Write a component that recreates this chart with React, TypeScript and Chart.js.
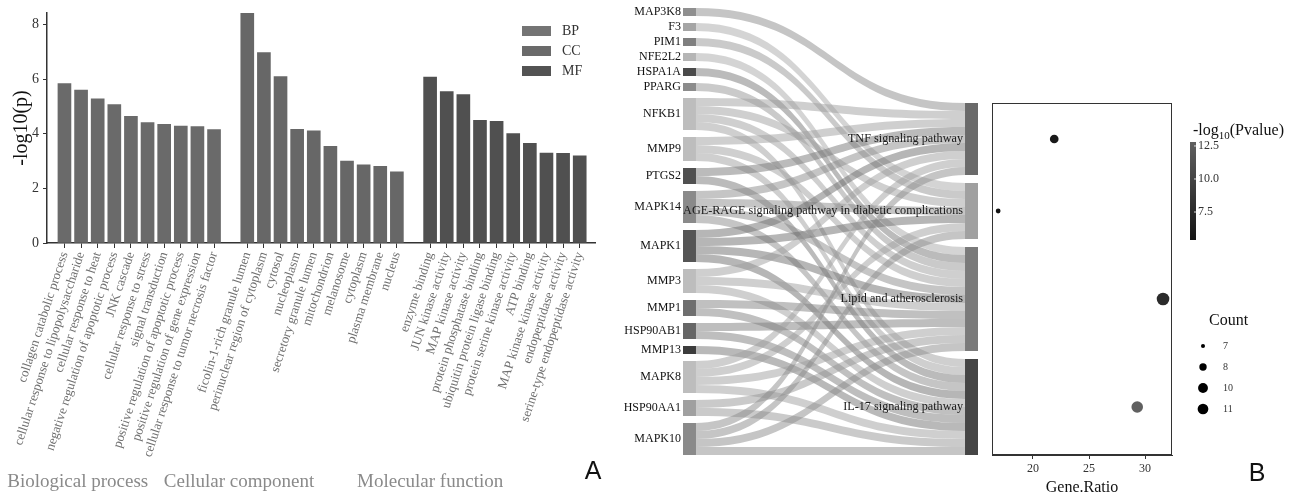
import React, { useEffect, useRef } from "react";
import { Chart, registerables } from "chart.js";

Chart.register(...registerables);

const SERIF = "'Liberation Serif', 'Times New Roman', serif";
const SANS = "'Liberation Sans', Arial, sans-serif";

// ---------------- Panel A data ----------------
const GROUPS = ["BP", "CC", "MF"];
const GROUP_TITLES = ["Biological process", "Cellular component", "Molecular function"];

const BP_TERMS = [
  "collagen catabolic process",
  "cellular response to lipopolysaccharide",
  "cellular response to heat",
  "negative regulation of apoptotic process",
  "JNK cascade",
  "cellular response to stress",
  "signal transduction",
  "positive regulation of apoptotic process",
  "positive regulation of gene expression",
  "cellular response to tumor necrosis factor",
];
const BP_VALUES = [5.84, 5.6, 5.28, 5.07, 4.64, 4.41, 4.34, 4.28, 4.26, 4.15];

const CC_TERMS = [
  "ficolin-1-rich granule lumen",
  "perinuclear region of cytoplasm",
  "cytosol",
  "nucleoplasm",
  "secretory granule lumen",
  "mitochondrion",
  "melanosome",
  "cytoplasm",
  "plasma membrane",
  "nucleus",
];
const CC_VALUES = [8.41, 6.97, 6.09, 4.16, 4.11, 3.54, 3.0, 2.86, 2.81, 2.61];

const MF_TERMS = [
  "enzyme binding",
  "JUN kinase activity",
  "MAP kinase activity",
  "protein phosphatase binding",
  "ubiquitin protein ligase binding",
  "protein serine kinase activity",
  "ATP binding",
  "MAP kinase kinase activity",
  "endopeptidase activity",
  "serine-type endopeptidase activity",
];
const MF_VALUES = [6.07, 5.54, 5.43, 4.49, 4.45, 4.01, 3.65, 3.29, 3.28, 3.19];

const Y_TICK_STEP = 2;

// ---------------- Panel B data ----------------
const GENES = [
  "MAP3K8", "F3", "PIM1", "NFE2L2", "HSPA1A", "PPARG", "NFKB1", "MMP9", "PTGS2",
  "MAPK14", "MAPK1", "MMP3", "MMP1", "HSP90AB1", "MMP13", "MAPK8", "HSP90AA1", "MAPK10",
];
const PATHWAYS = [
  "TNF signaling pathway",
  "AGE-RAGE signaling pathway in diabetic complications",
  "Lipid and atherosclerosis",
  "IL-17 signaling pathway",
];
// pathway indices (into PATHWAYS) each gene flows to
const GENE_PATHWAYS: number[][] = [
  [0], [1], [1], [2], [2], [2],
  [0, 1, 2, 3], [0, 2, 3], [0, 3],
  [0, 1, 2, 3], [0, 1, 2, 3], [0, 2, 3], [2, 3], [2, 3], [3],
  [0, 1, 2, 3], [2, 3], [0, 1, 2, 3],
];
const GENE_RATIO = [21.9, 16.9, 31.6, 29.3];
const COUNT = [8, 7, 11, 10];
const NEG_LOG10_P = [5.9, 5.38, 7.6, 12.8];
const COUNT_LEGEND = [7, 8, 10, 11];
const COLORBAR_TICKS = [7.5, 10.0, 12.5];
const GENE_RATIO_STEP = 5;

// ---------------- styles ----------------
const GROUP_COLORS = ["#6a6a6a", "#676767", "#505050"];
const LEGEND_COLORS = ["#747474", "#6a6a6a", "#535353"];
const GENE_COLORS = [
  "#8f8f8f", "#a5a5a5", "#7f7f7f", "#b5b5b5", "#4a4a4a", "#8c8c8c", "#bdbdbd", "#bdbdbd", "#505050",
  "#8a8a8a", "#555555", "#bdbdbd", "#6e6e6e", "#666666", "#3c3c3c", "#bdbdbd", "#a0a0a0", "#8a8a8a",
];
const LINK_COLORS = [
  "rgba(140,140,140,0.5)", "rgba(170,170,170,0.5)", "rgba(150,150,150,0.5)", "rgba(170,170,170,0.5)",
  "rgba(120,120,120,0.5)", "rgba(150,150,150,0.5)", "rgba(160,160,160,0.5)", "rgba(160,160,160,0.5)",
  "rgba(120,120,120,0.5)", "rgba(140,140,140,0.5)", "rgba(110,110,110,0.5)", "rgba(160,160,160,0.5)",
  "rgba(130,130,130,0.5)", "rgba(125,125,125,0.5)", "rgba(115,115,115,0.5)", "rgba(160,160,160,0.5)",
  "rgba(150,150,150,0.5)", "rgba(140,140,140,0.5)",
];
const PATHWAY_COLORS = ["#6a6a6a", "#a0a0a0", "#7a7a7a", "#454545"];
const NODE_W = 0.044;
const GAP_L = 0.875;
const GAP_R = 1;
const P_LOW = [20, 20, 20];
const P_HIGH = [96, 96, 96];

// ---------------- helpers ----------------
const GROUP_TERMS = [BP_TERMS, CC_TERMS, MF_TERMS];
const GROUP_VALUES = [BP_VALUES, CC_VALUES, MF_VALUES];
const GROUP_START: number[] = [];
{
  let s = 0;
  GROUP_TERMS.forEach((t) => {
    GROUP_START.push(s);
    s += t.length + 1;
  });
}
const LABEL_AT = new Map<number, string>();
GROUP_TERMS.forEach((terms, g) => terms.forEach((t, i) => LABEL_AT.set(GROUP_START[g] + i, t)));
const TICK_INDEX = Array.from(LABEL_AT.keys());
const MAX_VALUE = Math.max(...GROUP_VALUES.flat());

function layoutSankey() {
  let y = 0;
  const leftNodes = GENE_PATHWAYS.map((ps) => {
    const n = { y0: y, y1: y + ps.length };
    y = n.y1 + GAP_L;
    return n;
  });
  const totalL = y - GAP_L;
  const counts = PATHWAYS.map((_, p) => GENE_PATHWAYS.filter((ps) => ps.includes(p)).length);
  const totalR = counts.reduce((a, b) => a + b, 0) + GAP_R * (PATHWAYS.length - 1);
  let yr = totalL - totalR;
  const rightNodes = counts.map((c) => {
    const n = { y0: yr, y1: yr + c };
    yr = n.y1 + GAP_R;
    return n;
  });
  const fill = rightNodes.map((n) => n.y0);
  const links: { g: number; p: number; sy: number; ty: number }[] = [];
  GENE_PATHWAYS.forEach((ps, g) => {
    [...ps].sort((a, b) => a - b).forEach((p, k) => {
      links.push({ g, p, sy: leftNodes[g].y0 + k, ty: fill[p] });
      fill[p] += 1;
    });
  });
  return { leftNodes, rightNodes, links, totalL };
}
const SANKEY = layoutSankey();

const P_MIN = Math.min(...NEG_LOG10_P);
const P_MAX = Math.max(...NEG_LOG10_P);
function pColor(v: number) {
  const t = (v - P_MIN) / (P_MAX - P_MIN);
  const c = P_LOW.map((lo, i) => Math.round(lo + (P_HIGH[i] - lo) * t));
  return `rgb(${c[0]},${c[1]},${c[2]})`;
}
function countRadius(c: number) {
  const cmin = Math.min(...COUNT_LEGEND);
  const cmax = Math.max(...COUNT_LEGEND);
  return 2.4 + 3.9 * Math.sqrt((c - cmin) / (cmax - cmin));
}

// ---------------- Panel A config ----------------
function makeBarConfig(): any {
  const overlay = {
    id: "panelAOverlay",
    afterDraw(chart: any) {
      const { ctx, chartArea, scales } = chart;
      ctx.save();
      // legend
      GROUPS.forEach((g, i) => {
        const bx = chartArea.right - 73;
        const by = chartArea.top + 13 + i * 20;
        ctx.fillStyle = LEGEND_COLORS[i];
        ctx.fillRect(bx, by, 29, 10);
        ctx.fillStyle = "#333";
        ctx.font = `14px ${SERIF}`;
        ctx.textAlign = "left";
        ctx.textBaseline = "middle";
        ctx.fillText(g, bx + 40, by + 5);
      });
      // group titles
      const titlePos = [0.8, 10.5, 22.0];
      ctx.font = `19px ${SERIF}`;
      ctx.fillStyle = "#8a8a8a";
      ctx.textAlign = "center";
      ctx.textBaseline = "middle";
      GROUP_TITLES.forEach((t, i) => {
        ctx.fillText(t, scales.x.getPixelForValue(titlePos[i]), 482);
      });
      // panel letter
      ctx.font = `25px ${SANS}`;
      ctx.fillStyle = "#111";
      ctx.textAlign = "center";
      ctx.fillText("A", 593, 472);
      ctx.restore();
    },
  };
  return {
    type: "bar",
    data: {
      datasets: GROUPS.map((g, gi) => ({
        label: g,
        data: GROUP_VALUES[gi].map((v, i) => ({ x: GROUP_START[gi] + i, y: v })),
        backgroundColor: GROUP_COLORS[gi],
        borderWidth: 0,
        barThickness: 13,
        grouped: false,
      })),
    },
    options: {
      responsive: false,
      animation: false,
      events: [],
      layout: { padding: { left: 0, right: 15, top: 13, bottom: 0 } },
      plugins: { legend: { display: false }, tooltip: { enabled: false } },
      scales: {
        x: {
          type: "linear",
          offset: false,
          min: -1.05,
          max: TICK_INDEX[TICK_INDEX.length - 1] + 0.92,
          afterBuildTicks: (s: any) => {
            s.ticks = TICK_INDEX.map((v) => ({ value: v }));
          },
          afterFit: (s: any) => {
            s.height = 252;
          },
          ticks: {
            autoSkip: false,
            minRotation: 72,
            maxRotation: 72,
            padding: 2,
            color: "#707070",
            font: { family: SERIF, size: 13 },
            callback: (v: number) => LABEL_AT.get(v) ?? "",
          },
          grid: { display: true, offset: false, drawOnChartArea: false, drawTicks: true, tickLength: 5, color: "#333" },
          border: { display: true, color: "#333", width: 1.5 },
        },
        y: {
          min: 0,
          max: MAX_VALUE + 0.01,
          afterFit: (s: any) => {
            s.width = 47;
          },
          ticks: {
            stepSize: Y_TICK_STEP,
            includeBounds: false,
            padding: 4,
            color: "#333",
            font: { family: SERIF, size: 14 },
          },
          grid: { display: true, drawOnChartArea: false, drawTicks: true, tickLength: 4, color: "#333" },
          border: { display: true, color: "#333", width: 1.5 },
          title: {
            display: true,
            text: "-log10(p)",
            color: "#111",
            font: { family: SERIF, size: 20 },
            padding: { top: 10, bottom: 0 },
          },
        },
      },
    },
    plugins: [overlay],
  };
}

// ---------------- Panel B sankey config ----------------
function makeSankeyConfig(): any {
  const sankeyDraw = {
    id: "sankeyDraw",
    afterDatasetsDraw(chart: any) {
      const { ctx } = chart;
      const x = chart.scales.x;
      const y = chart.scales.y;
      const xl0 = x.getPixelForValue(0);
      const xl1 = x.getPixelForValue(NODE_W);
      const xr0 = x.getPixelForValue(1 - NODE_W);
      const xr1 = x.getPixelForValue(1);
      const xm = (xl1 + xr0) / 2;
      ctx.save();
      SANKEY.links.forEach((l) => {
        const a0 = y.getPixelForValue(l.sy);
        const a1 = y.getPixelForValue(l.sy + 1);
        const b0 = y.getPixelForValue(l.ty);
        const b1 = y.getPixelForValue(l.ty + 1);
        ctx.beginPath();
        ctx.moveTo(xl1, a0);
        ctx.bezierCurveTo(xm, a0, xm, b0, xr0, b0);
        ctx.lineTo(xr0, b1);
        ctx.bezierCurveTo(xm, b1, xm, a1, xl1, a1);
        ctx.closePath();
        ctx.fillStyle = LINK_COLORS[l.g];
        ctx.fill();
      });
      // nodes
      SANKEY.leftNodes.forEach((n, i) => {
        const t = y.getPixelForValue(n.y0);
        const b = y.getPixelForValue(n.y1);
        ctx.fillStyle = GENE_COLORS[i];
        ctx.fillRect(xl0, t, xl1 - xl0, b - t);
        ctx.fillStyle = "#111";
        ctx.font = `12px ${SERIF}`;
        ctx.textAlign = "right";
        ctx.textBaseline = "middle";
        ctx.fillText(GENES[i], xl0 - 2, (t + b) / 2);
      });
      SANKEY.rightNodes.forEach((n, i) => {
        const t = y.getPixelForValue(n.y0);
        const b = y.getPixelForValue(n.y1);
        ctx.fillStyle = PATHWAY_COLORS[i];
        ctx.fillRect(xr0, t, xr1 - xr0, b - t);
      });
      SANKEY.rightNodes.forEach((n, i) => {
        const t = y.getPixelForValue(n.y0);
        const b = y.getPixelForValue(n.y1);
        ctx.fillStyle = "#1a1a1a";
        ctx.font = `12.2px ${SERIF}`;
        ctx.textAlign = "right";
        ctx.textBaseline = "middle";
        ctx.fillText(PATHWAYS[i], xr0 - 2, (t + b) / 2);
      });
      ctx.restore();
    },
  };
  return {
    type: "scatter",
    data: { datasets: [] },
    options: {
      responsive: false,
      animation: false,
      events: [],
      layout: { padding: { left: 83, right: 12, top: 8, bottom: 40 } },
      plugins: { legend: { display: false }, tooltip: { enabled: false } },
      scales: {
        x: { type: "linear", display: false, min: 0, max: 1 },
        y: { type: "linear", display: false, reverse: true, min: 0, max: SANKEY.totalL },
      },
    },
    plugins: [sankeyDraw],
  };
}

// ---------------- Panel B dot plot config ----------------
function makeDotConfig(): any {
  const OX = 985;
  const overlay = {
    id: "dotOverlay",
    afterDraw(chart: any) {
      const { ctx, chartArea } = chart;
      ctx.save();
      // frame
      ctx.strokeStyle = "#333";
      ctx.lineWidth = 1;
      ctx.strokeRect(chartArea.left + 0.5, chartArea.top + 0.5, chartArea.right - chartArea.left - 1, chartArea.bottom - chartArea.top - 1);
      // colour bar
      const cbX = 1190 - OX;
      const cbTop = 142;
      const cbBot = 240;
      const vy = (v: number) => cbBot - ((v - P_MIN) / (P_MAX - P_MIN)) * (cbBot - cbTop);
      const grad = ctx.createLinearGradient(0, cbBot, 0, cbTop);
      grad.addColorStop(0, pColor(P_MIN));
      grad.addColorStop(1, pColor(P_MAX));
      ctx.fillStyle = grad;
      ctx.fillRect(cbX, cbTop, 6, cbBot - cbTop);
      ctx.font = `12px ${SERIF}`;
      ctx.textAlign = "left";
      ctx.textBaseline = "middle";
      COLORBAR_TICKS.forEach((v) => {
        const yy = vy(v);
        ctx.strokeStyle = "#ddd";
        ctx.beginPath();
        ctx.moveTo(cbX + 4, yy);
        ctx.lineTo(cbX + 6, yy);
        ctx.stroke();
        ctx.fillStyle = "#333";
        ctx.fillText(v.toFixed(1), cbX + 8, yy);
      });
      // colour bar title with subscript
      ctx.fillStyle = "#111";
      ctx.textBaseline = "alphabetic";
      let tx = 1193 - OX;
      ctx.font = `16px ${SERIF}`;
      ctx.fillText("-log", tx, 135);
      tx += ctx.measureText("-log").width;
      ctx.font = `11px ${SERIF}`;
      ctx.fillText("10", tx, 139);
      tx += ctx.measureText("10").width;
      ctx.font = `16px ${SERIF}`;
      ctx.fillText("(Pvalue)", tx, 135);
      // size legend
      ctx.font = `16px ${SERIF}`;
      ctx.textBaseline = "middle";
      ctx.fillText("Count", 1209 - OX, 321);
      COUNT_LEGEND.forEach((c, i) => {
        const cy = 346 + i * 21;
        ctx.fillStyle = "#000";
        ctx.beginPath();
        ctx.arc(1203 - OX, cy, countRadius(c) * 0.85, 0, Math.PI * 2);
        ctx.fill();
        ctx.fillStyle = "#333";
        ctx.font = `10px ${SERIF}`;
        ctx.fillText(String(c), 1223 - OX, cy);
      });
      // panel letter
      ctx.font = `25px ${SANS}`;
      ctx.fillStyle = "#111";
      ctx.textAlign = "center";
      ctx.fillText("B", 1257 - OX, 474);
      ctx.restore();
    },
  };
  const rn = SANKEY.rightNodes;
  return {
    type: "bubble",
    data: {
      datasets: [
        {
          data: PATHWAYS.map((_, i) => ({
            x: GENE_RATIO[i],
            y: (rn[i].y0 + rn[i].y1) / 2,
            r: countRadius(COUNT[i]),
          })),
          backgroundColor: NEG_LOG10_P.map(pColor),
          borderWidth: 0,
        },
      ],
    },
    options: {
      responsive: false,
      animation: false,
      events: [],
      layout: { padding: { left: 7, right: 129, top: 103, bottom: 0 } },
      plugins: { legend: { display: false }, tooltip: { enabled: false } },
      scales: {
        x: {
          type: "linear",
          min: 16.35,
          max: 32.4,
          afterFit: (s: any) => {
            s.height = 40;
          },
          ticks: {
            stepSize: GENE_RATIO_STEP,
            includeBounds: false,
            padding: 3,
            color: "#333",
            font: { family: SERIF, size: 12 },
          },
          grid: { display: true, drawOnChartArea: false, drawTicks: true, tickLength: 4, color: "#333" },
          border: { display: true, color: "#333" },
          title: {
            display: true,
            text: "Gene.Ratio",
            color: "#111",
            font: { family: SERIF, size: 16, lineHeight: 0.875 },
            padding: 0,
          },
        },
        y: { type: "linear", display: false, reverse: true, min: rn[0].y0, max: SANKEY.totalL },
      },
    },
    plugins: [overlay],
  };
}

function ChartBox(props: { left: number; width: number; make: () => any }) {
  const ref = useRef<HTMLCanvasElement>(null);
  useEffect(() => {
    const chart = new Chart(ref.current as HTMLCanvasElement, props.make());
    return () => chart.destroy();
  }, []);
  return (
    <canvas
      ref={ref}
      width={props.width}
      height={495}
      style={{ position: "absolute", left: props.left, top: 0, width: props.width, height: 495 }}
    />
  );
}

export default function App() {
  return (
    <div style={{ position: "absolute", left: 0, top: 0, width: 1301, height: 495, background: "#fff", overflow: "hidden" }}>
      <ChartBox left={0} width={610} make={makeBarConfig} />
      <ChartBox left={600} width={390} make={makeSankeyConfig} />
      <ChartBox left={985} width={316} make={makeDotConfig} />
    </div>
  );
}
